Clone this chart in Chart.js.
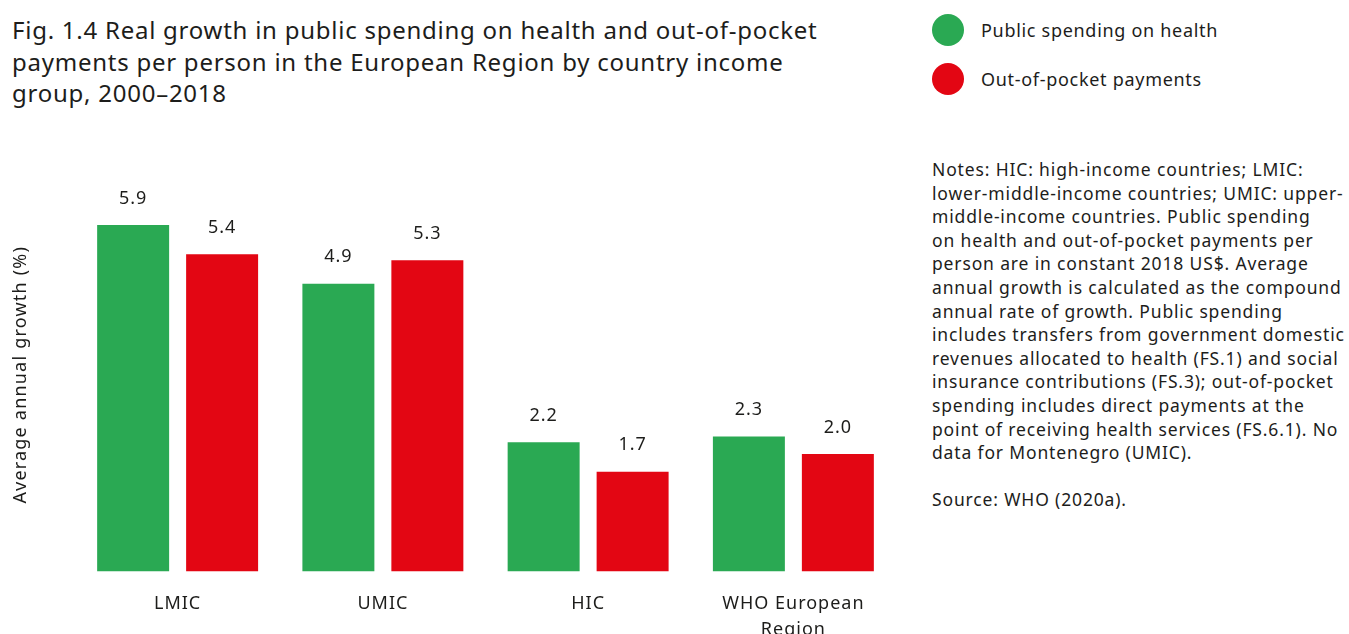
<!DOCTYPE html>
<html>
<head>
<meta charset="utf-8">
<script src="https://cdn.jsdelivr.net/npm/chart.js@4"></script>
<style>
  html, body { margin: 0; padding: 0; background: #fff; overflow: hidden; }
  body { width: 1349px; height: 634px; position: relative; font-family: "Noto Sans", sans-serif; color: #1d1d1b; }
  #wrap { position: absolute; left: 0; top: 0; width: 910px; height: 662px; }
  .titulo { position: absolute; left: 12px; top: 14px; font-size: 24px; letter-spacing: 0.75px; line-height: 31.5px; white-space: nowrap; }
  .legenda { position: absolute; left: 932px; font-size: 18px; letter-spacing: 0.7px; white-space: nowrap; height: 32px; line-height: 32px; }
  .legenda span.bola { display: inline-block; width: 32px; height: 32px; border-radius: 50%; vertical-align: top; margin-right: 17px; }
  .notas { position: absolute; left: 932px; top: 158px; font-size: 17.5px; letter-spacing: 0.85px; line-height: 23.6px; white-space: nowrap; }
</style>
</head>
<body>
<div class="titulo">Fig. 1.4 Real growth in public spending on health and out-of-pocket<br>payments per person in the European Region by country income<br>group, 2000–2018</div>

<div class="legenda" style="top:14px"><span class="bola" style="background:#2aa953"></span>Public spending on health</div>
<div class="legenda" style="top:63px"><span class="bola" style="background:#e30613"></span>Out-of-pocket payments</div>

<div class="notas">Notes: HIC: high-income countries; LMIC:<br>lower-middle-income countries; UMIC: upper-<br>middle-income countries. Public spending<br>on health and out-of-pocket payments per<br>person are in constant 2018 US$. Average<br>annual growth is calculated as the compound<br>annual rate of growth. Public spending<br>includes transfers from government domestic<br>revenues allocated to health (FS.1) and social<br>insurance contributions (FS.3); out-of-pocket<br>spending includes direct payments at the<br>point of receiving health services (FS.6.1). No<br>data for Montenegro (UMIC).<br><br>Source: WHO (2020a).</div>

<div id="wrap"><canvas id="grafico-barras"></canvas></div>

<script>
// grupos de renda e taxas de crescimento anual (%)
const grupos = ['LMIC', 'UMIC', 'HIC', ['WHO European', 'Region']];
const gastoPublico = [5.9, 4.9, 2.2, 2.3];
const pagamentoDireto = [5.4, 5.3, 1.7, 2.0];

const VERDE = '#2aa953';
const VERMELHO = '#e30613';
const COR_TEXTO = '#1d1d1b';
const FONTE = '"Noto Sans", sans-serif';

// espacamento entre letras (o canvas perde isso a cada resize)
const espacamento = {
    id: 'espacamento',
    beforeDraw(chart) {
        chart.ctx.letterSpacing = '1px';
    }
};

// escreve o valor acima de cada barra
const rotulosValores = {
    id: 'rotulosValores',
    afterDatasetsDraw(chart) {
        const ctx = chart.ctx;
        ctx.save();
        ctx.font = '18px ' + FONTE;
        ctx.fillStyle = COR_TEXTO;
        ctx.textAlign = 'center';
        ctx.textBaseline = 'middle';
        chart.data.datasets.forEach(function(ds, i) {
            chart.getDatasetMeta(i).data.forEach(function(barra, j) {
                ctx.fillText(ds.data[j].toFixed(1), barra.x, barra.y - 26.5);
            });
        });
        ctx.restore();
    }
};

// titulo do eixo vertical (eixo y fica escondido)
const tituloEixoY = {
    id: 'tituloEixoY',
    afterDraw(chart) {
        const ctx = chart.ctx;
        const area = chart.chartArea;
        ctx.save();
        ctx.translate(21, (area.top + area.bottom) / 2);
        ctx.rotate(-Math.PI / 2);
        ctx.font = '18px ' + FONTE;
        ctx.letterSpacing = '1.2px';
        ctx.fillStyle = COR_TEXTO;
        ctx.textAlign = 'center';
        ctx.textBaseline = 'middle';
        ctx.fillText('Average annual growth (%)', 0, 0);
        ctx.restore();
    }
};

const ctx = document.getElementById('grafico-barras').getContext('2d');
const grafico = new Chart(ctx, {
    type: 'bar',
    data: {
        labels: grupos,
        datasets: [{
            label: 'Public spending on health',
            data: gastoPublico,
            backgroundColor: VERDE,
            borderWidth: 0
        }, {
            label: 'Out-of-pocket payments',
            data: pagamentoDireto,
            backgroundColor: VERMELHO,
            borderWidth: 0
        }]
    },
    options: {
        responsive: true,
        maintainAspectRatio: false,
        animation: false,
        categoryPercentage: 0.867,
        barPercentage: 0.809,
        layout: {
            padding: { left: 75, right: 14, top: 178, bottom: 0 }
        },
        plugins: {
            legend: { display: false },
            title: { display: false },
            tooltip: { enabled: false }
        },
        scales: {
            y: {
                display: false,
                min: 0,
                max: 6.7
            },
            x: {
                grid: { display: false, drawTicks: false },
                border: { display: false },
                ticks: {
                    color: COR_TEXTO,
                    padding: 20,
                    font: { family: FONTE, size: 18, lineHeight: 1.4 }
                }
            }
        }
    },
    plugins: [espacamento, rotulosValores, tituloEixoY]
});
</script>
</body>
</html>
